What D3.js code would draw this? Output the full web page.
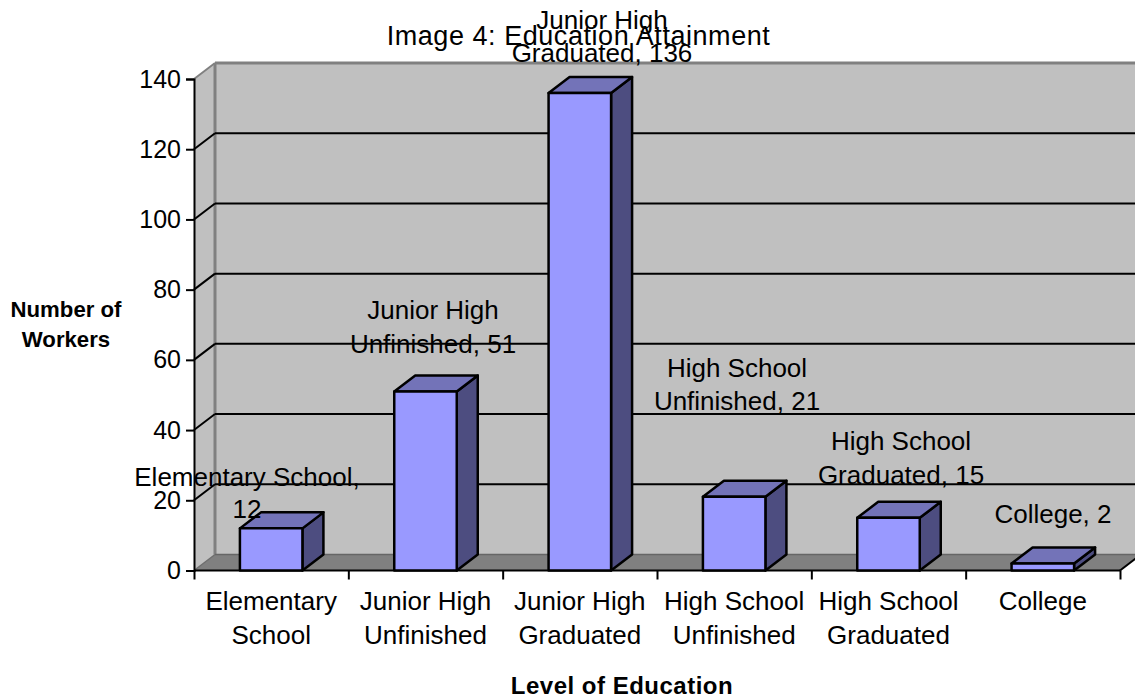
<!DOCTYPE html>
<html><head><meta charset="utf-8">
<script src="https://cdn.jsdelivr.net/npm/d3@7/dist/d3.min.js"></script>
<style>html,body{margin:0;padding:0;background:#fff}svg{display:block}text{font-family:"Liberation Sans",Arial,sans-serif;fill:#000}</style>
</head><body><div id="c"></div>
<script>
const categories = [["Elementary","School"],["Junior High","Unfinished"],["Junior High","Graduated"],["High School","Unfinished"],["High School","Graduated"],["College"]];
const values = [12,51,136,21,15,2];
const dataLabels = [["Elementary School,","12"],["Junior High","Unfinished, 51"],["Junior High","Graduated, 136"],["High School","Unfinished, 21"],["High School","Graduated, 15"],["College, 2"]];
const yTicks = [0,20,40,60,80,100,120,140];
const titleText = "Image 4: Education Attainment";
const yTitle = ["Number of","Workers"];
const xTitle = "Level of Education";

const W=1135,H=698, dx=21, dy=-16, FS=26;
const svg=d3.select("#c").append("svg").attr("width",W).attr("height",H);
const x=d3.scaleBand().domain(d3.range(categories.length)).range([194,1120]);
const y=d3.scaleLinear().domain([0,140]).range([570.5,79]);
const bw=x.bandwidth()*0.405, pad=(x.bandwidth()-bw)/2;
const poly=(pts,fill,stroke,sw)=>svg.append("polygon").attr("points",pts.map(p=>p.join(",")).join(" ")).attr("fill",fill).attr("stroke",stroke||"none").attr("stroke-width",sw||0).attr("stroke-linejoin","round");
const line=(a,b,c,sw)=>svg.append("line").attr("x1",a[0]).attr("y1",a[1]).attr("x2",b[0]).attr("y2",b[1]).attr("stroke",c).attr("stroke-width",sw);
const x0=x.range()[0],x1=x.range()[1],yb=y(0),yt=y(140);

// walls
poly([[x0+dx,yt+dy],[x1+dx,yt+dy],[x1+dx,yb+dy],[x0+dx,yb+dy]],"#c0c0c0");
poly([[x0,yt],[x0+dx,yt+dy],[x0+dx,yb+dy],[x0,yb]],"#c0c0c0");
poly([[x0,yb],[x0+dx,yb+dy],[x1+dx,yb+dy],[x1,yb]],"#808080");
// wall edges
line([x0+dx,yt+dy],[x1+dx,yt+dy],"#808080",3);
line([x0+dx,yt+dy],[x0+dx,yb+dy],"#808080",3);
line([x0+dx,yb+dy],[x1+dx,yb+dy],"#666",1.5);
line([x0,yt],[x0+dx,yt+dy],"#808080",2);
line([x0,yb],[x0+dx,yb+dy],"#6e6e6e",1.5);
// gridlines
yTicks.slice(1,-1).forEach(t=>{
  line([x0,y(t)],[x0+dx,y(t)+dy],"#000",2);
  line([x0+dx,y(t)+dy],[x1+dx,y(t)+dy],"#000",2);
});
// axes
const gy=svg.append("g").attr("transform",`translate(${x0},0)`)
  .call(d3.axisLeft(y).tickValues(yTicks).tickSize(8).tickPadding(5));
gy.selectAll("path,line").attr("stroke","#000").attr("stroke-width",2);
gy.selectAll("text").attr("font-size",25).attr("font-family",'"Liberation Sans",Arial,sans-serif').attr("fill","#000");
const xa=d3.scaleLinear().domain([0,categories.length]).range([x0,x1]);
const gx=svg.append("g").attr("transform",`translate(0,${yb})`)
  .call(d3.axisBottom(xa).ticks(categories.length).tickSize(9).tickFormat(""));
gx.selectAll("path,line").attr("stroke","#000").attr("stroke-width",2);
gx.select("path").attr("d",`M${x0},0H${x1}`);
line([x1,yb],[x1+dx,yb+dy],"#000",2);

// bars
values.forEach((v,i)=>{
  const l=x(i)+pad,r=l+bw,t=y(v),b=yb;
  poly([[r,b],[r+dx,b+dy],[r+dx,t+dy],[r,t]],"#4d4d80","#000",2.5);
  poly([[l,t],[l+dx,t+dy],[r+dx,t+dy],[r,t]],"#7373b8","#000",2.5);
  poly([[l,t],[r,t],[r,b],[l,b]],"#9999ff","#000",2.5);
});
// title
svg.append("text").attr("x",578.5).attr("y",45).attr("text-anchor","middle").attr("font-size",27).attr("letter-spacing",0.55).text(titleText);
// x labels
categories.forEach((c,i)=>{
  c.forEach((s,j)=>svg.append("text").attr("x",x(i)+x.bandwidth()/2).attr("y",610+j*33.5).attr("text-anchor","middle").attr("font-size",FS).text(s));
});
// axis titles
yTitle.forEach((s,j)=>svg.append("text").attr("x",66).attr("y",317+j*30).attr("text-anchor","middle").attr("font-size",22.2).attr("font-weight","bold").text(s));
svg.append("text").attr("x",622).attr("y",693.5).attr("text-anchor","middle").attr("font-size",24).attr("letter-spacing",0.5).attr("font-weight","bold").text(xTitle);
// data labels: anchor x, first baseline, line spacing
const labelAnchor=[[247,486,32],[433,318.5,34],[602,29,33],[737,377,32.5],[901,450,34],[1053,523,0]];
dataLabels.forEach((ls,i)=>ls.forEach((s,j)=>svg.append("text").attr("x",labelAnchor[i][0]).attr("y",labelAnchor[i][1]+j*labelAnchor[i][2]).attr("text-anchor","middle").attr("font-size",FS).text(s)));
</script></body></html>
